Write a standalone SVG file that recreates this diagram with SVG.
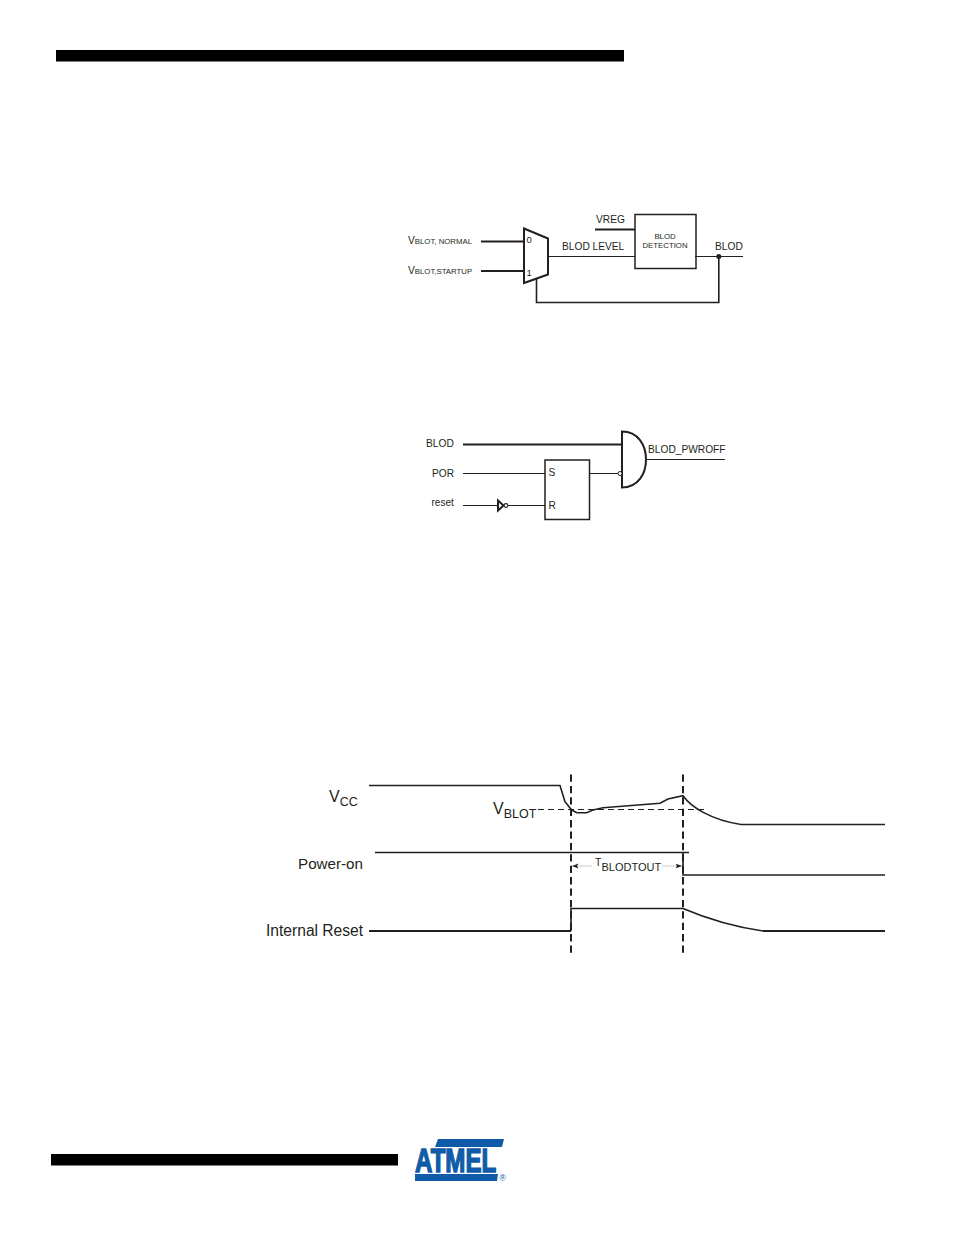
<svg xmlns="http://www.w3.org/2000/svg" width="954" height="1235" viewBox="0 0 954 1235">
<style>
text{font-family:"Liberation Sans",Arial,sans-serif;fill:#231f20}
.l{fill:none;stroke:#231f20;stroke-width:1}
.m{fill:none;stroke:#231f20;stroke-width:1.5}
.h{fill:none;stroke:#231f20;stroke-width:2}
.s{fill:none;stroke:#231f20;stroke-width:1.6}
.d{fill:none;stroke:#231f20;stroke-width:2;stroke-dasharray:7.3 4.1}
.t{font-size:10.2px}
.v{font-size:7.8px}
.b{font-size:16px}
</style>
<defs>
<marker id="a" markerWidth="7" markerHeight="6" refX="6.5" refY="3" orient="auto-start-reverse" markerUnits="userSpaceOnUse"><path d="M0 0.5L6.5 3L0 5.500L1.500 3Z" fill="#231f20"/></marker>
</defs>
<rect id="top-bar" x="56" y="50" width="568" height="11.500" fill="#000"/>
<rect id="bottom-bar" x="51" y="1154" width="347" height="11.500" fill="#000"/>

<g id="connectors">
<path class="h" d="M481 241.500H524M481 271H524M595 229.500H635"/>
<path class="l" d="M549 256.500H635M695 256.500H743"/>
<path class="s" d="M718.800 257V302.500H536.500V278"/>
<path class="h" d="M463 444.500H622"/>
<path class="l" d="M463 473.500H545M463 505.500H498M508 505.500H545M590 473.500H618.500M646 459.500H725"/>
<path class="s" d="M369 785.500H560L565 801.700L571.700 810L576.700 812.700H586.700L593 810L603 807.700L660 803.300L668 799L683 795.700C691 807 711 820 741 824.500H885"/>
<path class="l" d="M538 809.500H707" stroke-dasharray="6 4"/>
<path class="s" d="M375 852.500H689M683 853V875H885"/>
<path class="h" d="M369 931H571"/>
<path class="s" d="M571 931V908.500H683C710 920 735 927 763 931"/>
<path class="h" d="M763 931H885"/>
<path class="d" d="M571 774.500V953M683 774.500V953"/>
<path d="M572 866H592" fill="none" stroke="#bbb" stroke-width="0.8" marker-start="url(#a)"/>
<path d="M662 866H682" fill="none" stroke="#bbb" stroke-width="0.8" marker-end="url(#a)"/>
</g>

<g id="mux">
<path class="h" d="M524 228.500L548 238.500V274.500L524 283Z" fill="#fff"/>
<text x="526.500" y="243" style="font-size:9.500px">0</text>
<text x="526.500" y="276" style="font-size:9.500px">1</text>
</g>
<g id="blod-detection">
<rect class="m" x="635" y="214.500" width="61" height="54"/>
<text x="665" y="239" text-anchor="middle" style="font-size:7.800px">BLOD</text>
<text x="665" y="248" text-anchor="middle" style="font-size:7.800px">DETECTION</text>
</g>
<circle id="junction" cx="718.800" cy="256.500" r="2.500" fill="#231f20"/>
<g id="labels-top">
<text x="408" y="244" style="font-size:10.200px">V<tspan class="v">BLOT, NORMAL</tspan></text>
<text x="408" y="274" style="font-size:10.200px">V<tspan class="v">BLOT,STARTUP</tspan></text>
<text x="596" y="223" class="t">VREG</text>
<text x="562" y="250" class="t">BLOD LEVEL</text>
<text x="715" y="250" class="t">BLOD</text>
</g>

<g id="and-gate">
<path class="h" d="M622 431.500C638 431.500 646 445 646 459.500C646 474 638 487.500 622 487.500Z"/>
<circle cx="620" cy="473.500" r="2" fill="#fff" stroke="#231f20" stroke-width="1"/>
</g>
<g id="sr-latch">
<rect class="m" x="545" y="460" width="44.500" height="59.500"/>
<text x="548.500" y="476" class="t">S</text>
<text x="548.500" y="509" class="t">R</text>
</g>
<g id="inverter">
<path class="h" d="M498 500.500L503.500 505.500L498 510.500Z"/>
<circle cx="506" cy="505.500" r="1.900" fill="#fff" stroke="#231f20" stroke-width="1.100"/>
</g>
<g id="labels-mid">
<text x="426" y="447" class="t">BLOD</text>
<text x="432" y="477" class="t">POR</text>
<text x="431.500" y="506" style="font-size:10px">reset</text>
<text x="648" y="453" class="t">BLOD_PWROFF</text>
</g>

<g id="labels-timing">
<text x="329" y="802" class="b">V<tspan font-size="12.500" dy="3.500">CC</tspan></text>
<text x="493" y="814" class="b">V<tspan font-size="12.500" dy="3.500">BLOT</tspan></text>
<text x="298" y="869" style="font-size:15.200px">Power-on</text>
<text x="266" y="936" style="font-size:15.600px">Internal Reset</text>
<text x="595" y="866" style="font-size:10.500px">T<tspan font-size="11" dy="4.500">BLODTOUT</tspan></text>
</g>

<g id="atmel-logo">
<path d="M438 1139H504L502 1147H435Z" fill="#0f5ba8"/>
<path d="M415 1174H498L497 1181H415Z" fill="#0f5ba8"/>
<text transform="translate(415 1172) scale(0.71 1)" stroke="#0f5ba8" stroke-width="1.500" style="font-weight:700;font-size:34px;fill:#0f5ba8">ATMEL</text>
<text x="499.500" y="1181" style="font-size:8.500px;fill:#0f5ba8">®</text>
</g>
</svg>
